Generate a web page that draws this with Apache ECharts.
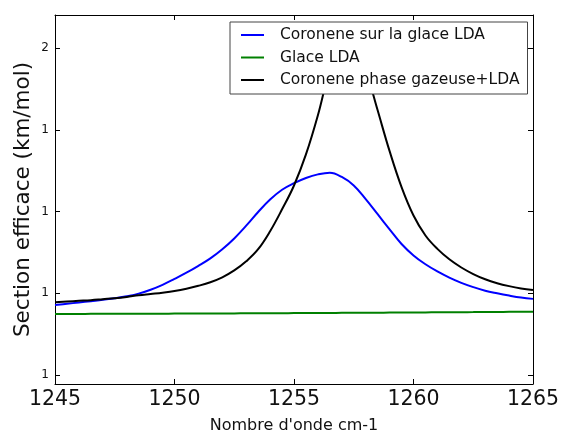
<!DOCTYPE html>
<html>
<head>
<meta charset="utf-8">
<script src="https://cdn.jsdelivr.net/npm/echarts@6/dist/echarts.min.js"></script>
<style>html,body{margin:0;padding:0;background:#fff;}#c{width:561px;height:432px;}</style>
</head>
<body>
<div id="c"></div>
<script>
const xs = [1245,1245.5,1246,1246.5,1247,1247.5,1248,1248.5,1249,1249.5,1250,1250.5,1251,1251.5,1252,1252.5,1253,1253.5,1254,1254.5,1255,1255.5,1256,1256.5,1257,1257.5,1258,1258.5,1259,1259.5,1260,1260.5,1261,1261.5,1262,1262.5,1263,1263.5,1264,1264.5,1265];
const blueVals = [1.214,1.218,1.222,1.226,1.230,1.235,1.241,1.249,1.261,1.276,1.294,1.313,1.334,1.357,1.385,1.418,1.457,1.499,1.537,1.567,1.587,1.603,1.614,1.619,1.606,1.580,1.538,1.492,1.446,1.401,1.366,1.339,1.317,1.298,1.282,1.269,1.258,1.250,1.243,1.237,1.233];
const greenVals = [1.1868,1.1869,1.1870,1.1871,1.1872,1.1873,1.1874,1.1875,1.1876,1.1877,1.1879,1.1880,1.1882,1.1883,1.1885,1.1886,1.1888,1.1889,1.1891,1.1892,1.1894,1.1896,1.1898,1.1900,1.1902,1.1904,1.1906,1.1908,1.1910,1.1912,1.1914,1.1916,1.1918,1.1920,1.1923,1.1925,1.1928,1.1930,1.1933,1.1935,1.1938];
const blackVals = [1.223,1.225,1.227,1.229,1.232,1.235,1.239,1.244,1.248,1.252,1.257,1.264,1.273,1.284,1.299,1.320,1.348,1.385,1.440,1.507,1.580,1.675,1.795,1.935,2.025,2.030,1.935,1.810,1.685,1.575,1.488,1.427,1.386,1.354,1.329,1.309,1.293,1.281,1.272,1.265,1.260];
const seriesNames = ['Coronene sur la glace LDA','Glace LDA','Coronene phase gazeuse+LDA'];
const yTicks = [1, 1.25, 1.5, 1.75, 2];
const xName = "Nombre d'onde cm-1";
const yName = 'Section efficace (km/mol)';

const FONT = 'DejaVu Sans';
const chart = echarts.init(document.getElementById('c'), null, {renderer:'canvas'});
const mk = vals => xs.map((x,i)=>[x, vals[i]]);
const colors = ['#0000ff','#008000','#000000'];
const allVals = [blueVals, greenVals, blackVals];
const yMin = 0.9725, yMax = 2.1017;
const axisLine = {show:true, onZero:false, lineStyle:{color:'#000', width:1}};
const tick = {show:true, inside:true, length:5, lineStyle:{color:'#000', width:1}};
chart.setOption({
  animation:false,
  backgroundColor:'#fff',
  textStyle:{fontFamily:FONT},
  grid:{left:55, right:28, top:15, bottom:48, containLabel:false, outerBoundsMode:'none'},
  legend:{
    left:230, top:22, orient:'vertical',
    padding:[5,8,6,10], itemGap:6.5, itemWidth:23, itemHeight:14,
    backgroundColor:'#fff', borderColor:'#444', borderWidth:1,
    data:seriesNames,
    itemStyle:{opacity:0},
    formatter: n => '{a|' + n + '}',
    textStyle:{fontFamily:FONT, fontSize:15.5, color:'#111', rich:{a:{fontFamily:FONT, fontSize:15.5, lineHeight:16, color:'#111', padding:[0,0,0,11]}}}
  },
  xAxis:[{
    type:'value', min:1245, max:1265, interval:5,
    name:xName, nameLocation:'middle', nameGap:34, nameMoveOverlap:false,
    nameTextStyle:{fontFamily:FONT, fontSize:16, color:'#111'},
    axisLine:axisLine, axisTick:tick, splitLine:{show:false},
    axisLabel:{fontFamily:FONT, fontSize:20.5, color:'#111', margin:5, formatter:v=>String(v)}
  },{
    type:'value', min:1245, max:1265, interval:5, position:'top',
    axisLine:axisLine, axisTick:tick, splitLine:{show:false}, axisLabel:{show:false}
  }],
  yAxis:[{
    type:'value', min:yMin, max:yMax,
    name:yName, nameLocation:'middle', nameGap:21, nameRotate:90, nameMoveOverlap:false,
    nameTextStyle:{fontFamily:FONT, fontSize:21.5, color:'#111'},
    axisLine:axisLine,
    axisTick:Object.assign({}, tick, {customValues:yTicks}),
    splitLine:{show:false},
    axisLabel:{fontFamily:FONT, fontSize:12, color:'#111', margin:6, customValues:yTicks, formatter:v=>String(Math.floor(v+1e-9))}
  },{
    type:'value', min:yMin, max:yMax, position:'right',
    axisLine:axisLine,
    axisTick:Object.assign({}, tick, {customValues:yTicks}),
    splitLine:{show:false}, axisLabel:{show:false}
  }],
  series: seriesNames.map((n,i)=>({
    name:n, type:'line', data:mk(allVals[i]), symbol:'none', showSymbol:false,
    smooth:0.4, clip:true, xAxisIndex:0, yAxisIndex:0,
    lineStyle:{color:colors[i], width:2}, itemStyle:{color:colors[i]}
  }))
});
</script>
</body>
</html>
